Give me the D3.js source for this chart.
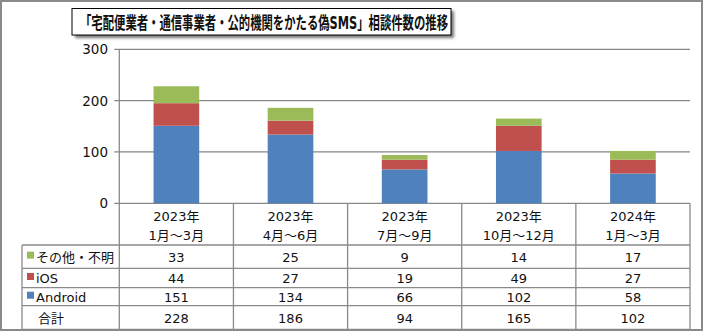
<!DOCTYPE html>
<html><head><meta charset="utf-8">
<script src="https://cdn.jsdelivr.net/npm/d3@7"></script>
<style>body{margin:0;background:#fff}svg{display:block}text{font-family:"DejaVu Sans","Noto Sans CJK JP",sans-serif;fill:#111}</style>
</head><body><svg id="c" width="705" height="336"></svg>
<script>
const titleText = "「宅配便業者・通信事業者・公的機関をかたる偽SMS」相談件数の推移";
const periodsYear = ["2023年","2023年","2023年","2023年","2024年"];
const periodsRange = ["1月～3月","4月～6月","7月～9月","10月～12月","1月～3月"];
const seriesNames = ["その他・不明","iOS","Android"];
const seriesColors = ["#9BBB59","#C0504D","#4F81BD"];
const android = [151,134,66,102,58];
const ios = [44,27,19,49,27];
const other = [33,25,9,14,17];
const totals = [228,186,94,165,102];
const totalLabel = "合計";
const yTicks = [0,100,200,300];

const svg = d3.select("#c");
const L = 119.3, R = 690, T = 49.3, B = 203.3;
const cats = d3.range(periodsYear.length);
const x = d3.scaleBand().domain(cats).range([L,R]).paddingInner(0.6).paddingOuter(0.3);
const xc = d3.scaleBand().domain(cats).range([L,R]).padding(0);
const y = d3.scaleLinear().domain([0,300]).range([B,T]);

// outer border
svg.append("rect").attr("x",1).attr("y",1).attr("width",701).attr("height",329)
  .attr("fill","#fff").attr("stroke","#8a8a8a").attr("stroke-width",2);

// title box with shadow
const defs = svg.append("defs");
const f = defs.append("filter").attr("id","sh").attr("x","-10%").attr("y","-30%").attr("width","120%").attr("height","180%");
f.append("feGaussianBlur").attr("stdDeviation",1.5);
svg.append("rect").attr("x",75).attr("y",11).attr("width",379).attr("height",27).attr("fill","#777").attr("filter","url(#sh)");
svg.append("rect").attr("x",72).attr("y",8.5).attr("width",379).attr("height",26.5).attr("fill","#fff").attr("stroke","#000").attr("stroke-width",1);
svg.append("text").attr("x",80).attr("y",29).attr("font-size",17.5).attr("font-weight","bold")
  .attr("font-family","'Noto Sans CJK JP',sans-serif")
  .attr("textLength",368).attr("lengthAdjust","spacingAndGlyphs").text(titleText);

// gridlines
svg.append("g").selectAll("line").data(yTicks).join("line")
  .attr("x1",L-5).attr("x2",R).attr("y1",d=>y(d)).attr("y2",d=>y(d))
  .attr("stroke","#868686").attr("stroke-width",1.3);
svg.append("g").selectAll("text").data(yTicks).join("text")
  .attr("x",108).attr("y",d=>y(d)+5).attr("text-anchor","end").attr("font-size",13.5).text(d=>d);

// stacked bars
const rows = cats.map(i=>({i, Android:android[i], iOS:ios[i], other:other[i]}));
const stack = d3.stack().keys(["Android","iOS","other"])(rows);
const colorMap = {Android:seriesColors[2], iOS:seriesColors[1], other:seriesColors[0]};
svg.append("g").selectAll("g").data(stack).join("g").attr("fill",d=>colorMap[d.key])
  .selectAll("rect").data(d=>d).join("rect")
  .attr("x",d=>x(d.data.i)).attr("width",x.bandwidth())
  .attr("y",d=>y(d[1])).attr("height",d=>y(d[0])-y(d[1]));

// table
const rowY = [203.3,245,268.3,287.7,305.7,329.3];
const lc = "#8a8a8a";
const tg = svg.append("g");
[1,2,3,4,5].forEach(k=>{
  tg.append("line").attr("x1",22).attr("x2",R).attr("y1",rowY[k]).attr("y2",rowY[k]).attr("stroke",lc).attr("stroke-width",1.3);
});
cats.concat([cats.length]).forEach(k=>{
  const xx = k<cats.length ? xc(k) : R;
  tg.append("line").attr("x1",xx).attr("x2",xx).attr("y1",k===0?T:B).attr("y2",rowY[5]).attr("stroke",lc).attr("stroke-width",1.3);
});
tg.append("line").attr("x1",22).attr("x2",22).attr("y1",rowY[1]).attr("y2",rowY[5]).attr("stroke",lc).attr("stroke-width",1.3);

const cx = i=>xc(i)+xc.bandwidth()/2;
tg.selectAll("text.h1").data(periodsYear).join("text").attr("class","h1")
  .attr("x",(d,i)=>cx(i)).attr("y",220.5).attr("text-anchor","middle").attr("font-size",13).text(d=>d);
tg.selectAll("text.h2").data(periodsRange).join("text").attr("class","h2")
  .attr("x",(d,i)=>cx(i)).attr("y",240).attr("text-anchor","middle").attr("font-size",13).text(d=>d);

const tableRows = [other, ios, android, totals];
tableRows.forEach((arr,r)=>{
  const mid = (rowY[r+1]+rowY[r+2])/2;
  tg.selectAll("text.r"+r).data(arr).join("text").attr("class","r"+r)
    .attr("x",(d,i)=>cx(i)).attr("y",mid+5).attr("text-anchor","middle").attr("font-size",13).text(d=>d);
  const label = r<3 ? seriesNames[r] : totalLabel;
  if(r<3){
    tg.append("rect").attr("x",27).attr("y",mid-5).attr("width",7).attr("height",7).attr("fill",seriesColors[r]);
  }
  tg.append("text").attr("x",r<3?36:38).attr("y",mid+5).attr("font-size",13).text(label);
});
</script></body></html>
